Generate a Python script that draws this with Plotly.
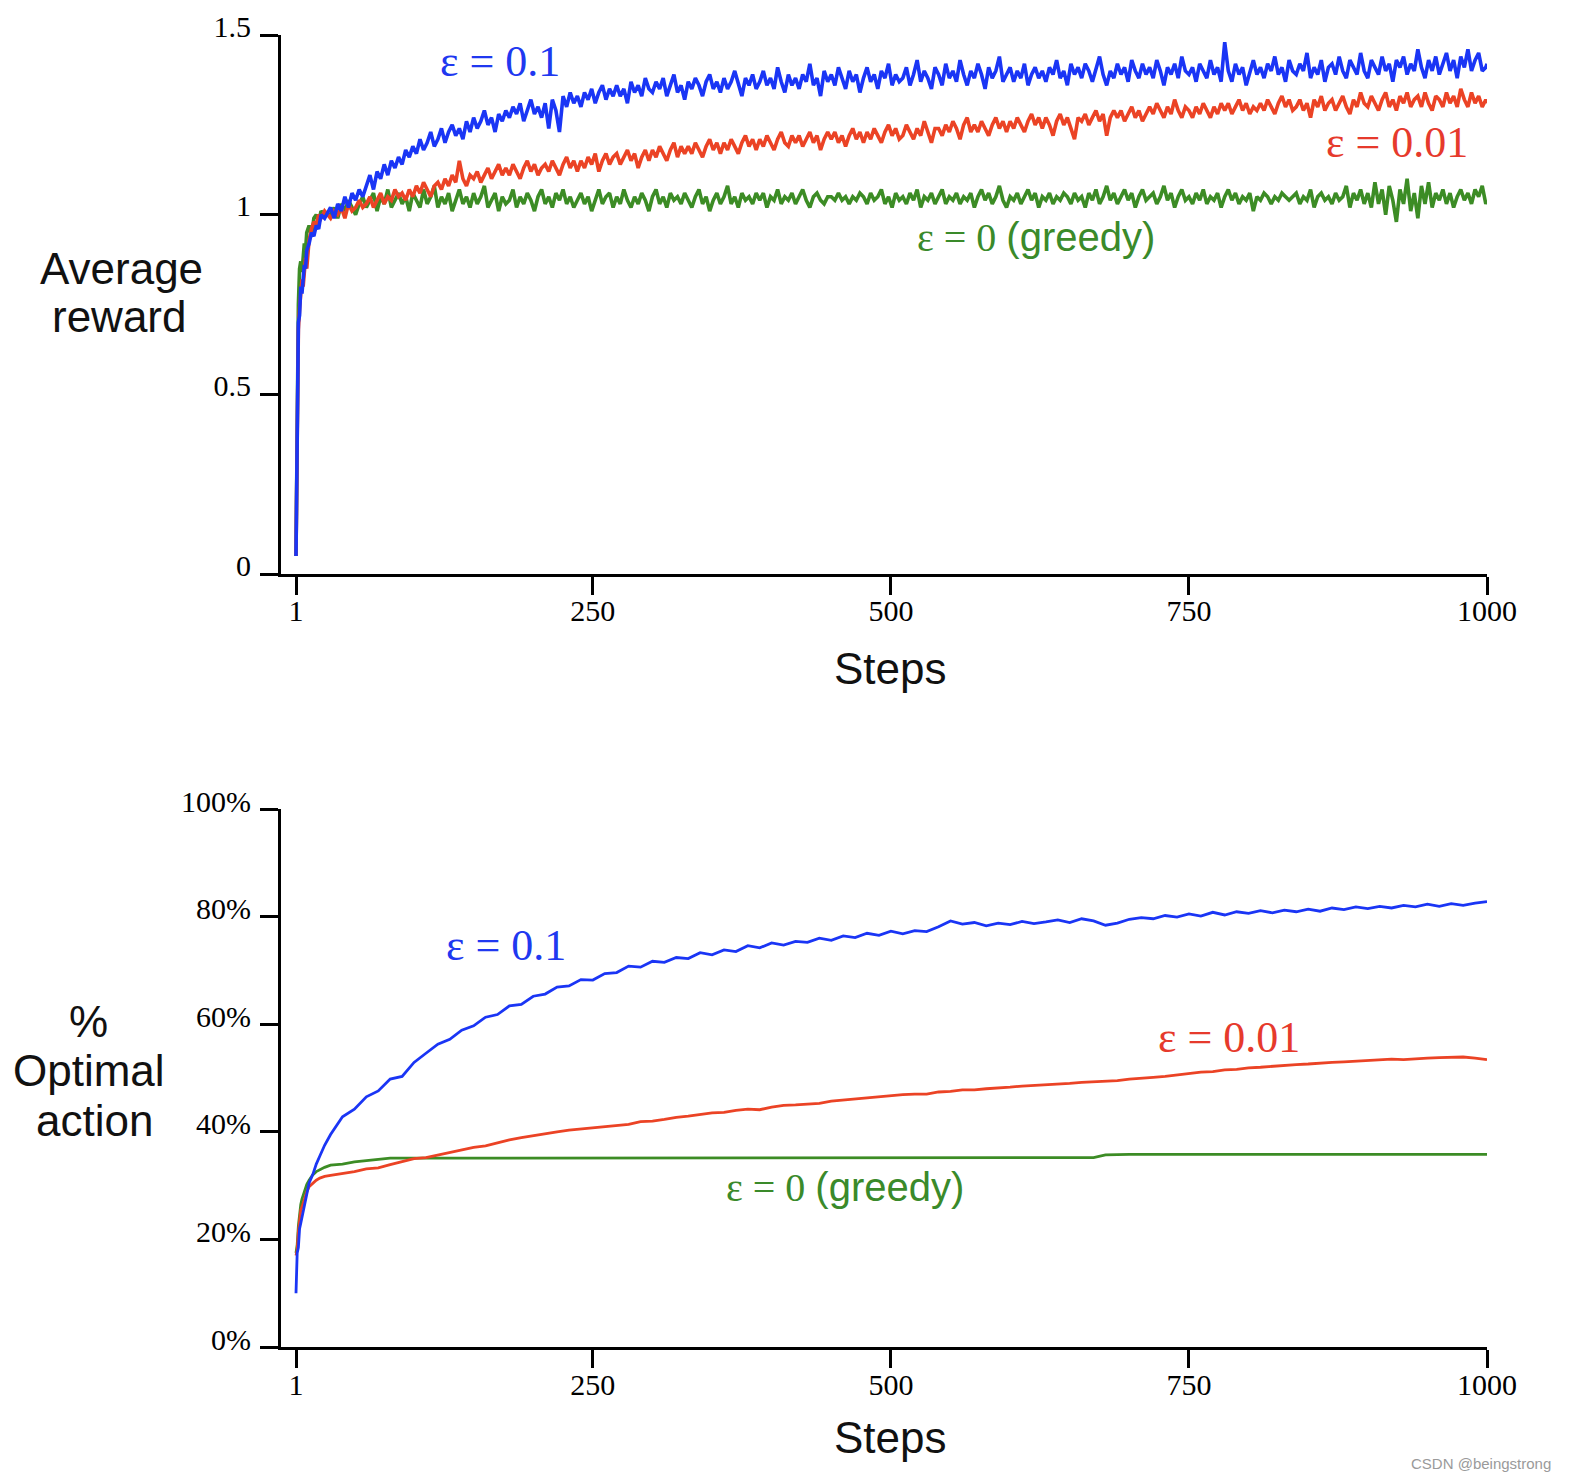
import plotly.graph_objects as go

# ---------------- data ----------------
top_steps = [1, 2, 3, 4, 5, 6, 7, 8, 9, 10, 12, 14, 16, 18, 20, 22, 25] + list(range(30, 1000, 3)) + [1000]

reward_eps01 = [
    0.05, 0.47, 0.70, 0.72, 0.80, 0.78, 0.84, 0.86, 0.85, 0.90, 0.92, 0.95, 0.94, 0.97, 0.96, 1.00, 0.99,
    1.02, 0.99, 1.03, 1.01, 1.05, 1.02, 1.06, 1.04, 1.07, 1.05,
    1.08, 1.11, 1.07, 1.12, 1.10, 1.14, 1.11, 1.15, 1.13, 1.16,
    1.14, 1.18, 1.16, 1.19, 1.17, 1.21, 1.18, 1.20, 1.23, 1.19,
    1.21, 1.24, 1.20, 1.23, 1.25, 1.22, 1.24, 1.21, 1.26, 1.23,
    1.27, 1.24, 1.26, 1.29, 1.25, 1.27, 1.23, 1.28, 1.26, 1.29,
    1.27, 1.30, 1.28, 1.31, 1.26, 1.29, 1.32, 1.28, 1.30, 1.27,
    1.31, 1.24, 1.32, 1.29, 1.23, 1.33, 1.30, 1.34, 1.31, 1.33,
    1.30, 1.34, 1.32, 1.35, 1.31, 1.34, 1.36, 1.32, 1.35, 1.33,
    1.36, 1.33, 1.35, 1.31, 1.37, 1.34, 1.36, 1.33, 1.38, 1.35,
    1.34, 1.37, 1.35, 1.38, 1.33, 1.36, 1.39, 1.34, 1.36, 1.32,
    1.37, 1.35, 1.38, 1.36, 1.33, 1.37, 1.39, 1.35, 1.37, 1.34,
    1.38, 1.35, 1.37, 1.40, 1.36, 1.33, 1.38, 1.36, 1.39, 1.35,
    1.37, 1.40, 1.36, 1.38, 1.35, 1.41, 1.37, 1.34, 1.39, 1.36,
    1.38, 1.35, 1.39, 1.37, 1.42, 1.36, 1.38, 1.33, 1.40, 1.37,
    1.39, 1.36, 1.41, 1.38, 1.35, 1.40, 1.37, 1.39, 1.34, 1.38,
    1.41, 1.37, 1.39, 1.35, 1.40, 1.38, 1.42, 1.36, 1.39, 1.37,
    1.38, 1.41, 1.36, 1.39, 1.43, 1.37, 1.40, 1.38, 1.35, 1.41,
    1.39, 1.36, 1.42, 1.38, 1.40, 1.37, 1.43, 1.39, 1.36, 1.40,
    1.38, 1.42, 1.39, 1.35, 1.41, 1.38, 1.40, 1.44, 1.37, 1.39,
    1.41, 1.37, 1.40, 1.38, 1.42, 1.36, 1.39, 1.41, 1.38, 1.40,
    1.37, 1.41, 1.39, 1.43, 1.38, 1.40, 1.36, 1.42, 1.39, 1.41,
    1.38, 1.42, 1.40, 1.37, 1.41, 1.44, 1.39, 1.36, 1.40, 1.38,
    1.42, 1.39, 1.41, 1.37, 1.43, 1.40, 1.38, 1.42, 1.39, 1.41,
    1.38, 1.43, 1.40, 1.36, 1.41, 1.39, 1.42, 1.38, 1.44, 1.40,
    1.39, 1.41, 1.37, 1.42, 1.40, 1.38, 1.43, 1.39, 1.41, 1.37,
    1.48, 1.40, 1.37, 1.42, 1.39, 1.41, 1.36, 1.40, 1.43, 1.39,
    1.41, 1.38, 1.42, 1.40, 1.44, 1.39, 1.41, 1.37, 1.43, 1.40,
    1.39, 1.42, 1.40, 1.45, 1.38, 1.41, 1.39, 1.43, 1.37, 1.41,
    1.42, 1.39, 1.44, 1.40, 1.38, 1.43, 1.41, 1.39, 1.45, 1.40,
    1.38, 1.43, 1.41, 1.39, 1.44, 1.40, 1.42, 1.37, 1.43, 1.41,
    1.44, 1.39, 1.42, 1.40, 1.46, 1.41, 1.38, 1.43, 1.40, 1.44,
    1.39, 1.42, 1.45, 1.40, 1.43, 1.38, 1.44, 1.41, 1.46, 1.40,
    1.43, 1.45, 1.40, 1.41, 1.42,
]

reward_eps001 = [
    0.05, 0.50, 0.68, 0.74, 0.78, 0.82, 0.80, 0.86, 0.88, 0.85, 0.93, 0.96, 0.98, 0.97, 1.00, 0.99, 1.01,
    0.99, 1.01, 1.00, 1.02, 0.99, 1.03, 1.01, 1.02, 1.04, 1.02,
    1.03, 1.05, 1.02, 1.04, 1.06, 1.03, 1.05, 1.04, 1.07, 1.05,
    1.06, 1.04, 1.07, 1.05, 1.08, 1.06, 1.09, 1.07, 1.05, 1.08,
    1.09, 1.07, 1.10, 1.08, 1.11, 1.09, 1.15, 1.10, 1.08, 1.11,
    1.10, 1.12, 1.09, 1.11, 1.13, 1.10, 1.12, 1.14, 1.11, 1.13,
    1.11, 1.14, 1.12, 1.10, 1.13, 1.15, 1.12, 1.14, 1.11, 1.13,
    1.14, 1.12, 1.15, 1.13, 1.11, 1.14, 1.16, 1.13, 1.15, 1.12,
    1.15, 1.13, 1.16, 1.14, 1.17, 1.12, 1.15, 1.17, 1.14, 1.16,
    1.17, 1.14, 1.16, 1.18, 1.15, 1.17, 1.13, 1.16, 1.18, 1.15,
    1.18, 1.16, 1.19, 1.17, 1.15, 1.18, 1.20, 1.16, 1.19, 1.17,
    1.19, 1.17, 1.20, 1.18, 1.16, 1.19, 1.21, 1.18, 1.20, 1.17,
    1.20, 1.18, 1.21, 1.19, 1.17, 1.20, 1.22, 1.19, 1.21, 1.18,
    1.21, 1.19, 1.22, 1.20, 1.18, 1.21, 1.23, 1.20, 1.19, 1.22,
    1.20, 1.22, 1.19, 1.21, 1.23, 1.20, 1.22, 1.18, 1.21, 1.23,
    1.21, 1.23, 1.20, 1.22, 1.19, 1.22, 1.24, 1.21, 1.23, 1.20,
    1.23, 1.21, 1.24, 1.22, 1.20, 1.23, 1.25, 1.22, 1.24, 1.21,
    1.22, 1.25, 1.23, 1.21, 1.24, 1.22, 1.26, 1.23, 1.20, 1.24,
    1.24, 1.22, 1.25, 1.23, 1.26, 1.24, 1.21, 1.25, 1.27, 1.23,
    1.25, 1.23, 1.26, 1.24, 1.22, 1.25, 1.27, 1.24, 1.26, 1.23,
    1.26, 1.24, 1.27, 1.25, 1.23, 1.26, 1.28, 1.25, 1.27, 1.24,
    1.27, 1.25, 1.22, 1.26, 1.28, 1.25, 1.27, 1.24, 1.21, 1.27,
    1.26, 1.28, 1.25, 1.27, 1.29, 1.26, 1.28, 1.22, 1.27, 1.29,
    1.27, 1.29, 1.26, 1.28, 1.30, 1.27, 1.29, 1.26, 1.28, 1.30,
    1.28, 1.31, 1.29, 1.27, 1.30, 1.28, 1.32, 1.29, 1.27, 1.30,
    1.29, 1.27, 1.30, 1.28, 1.31, 1.29, 1.27, 1.30, 1.28, 1.31,
    1.29, 1.31, 1.28, 1.30, 1.32, 1.29, 1.31, 1.28, 1.30, 1.29,
    1.31, 1.29, 1.32, 1.30, 1.28, 1.31, 1.33, 1.30, 1.32, 1.29,
    1.30, 1.32, 1.29, 1.31, 1.27, 1.32, 1.30, 1.33, 1.29, 1.31,
    1.32, 1.29, 1.31, 1.33, 1.30, 1.28, 1.32, 1.30, 1.34, 1.31,
    1.30, 1.33, 1.31, 1.29, 1.32, 1.34, 1.30, 1.32, 1.29, 1.33,
    1.31, 1.34, 1.30, 1.32, 1.33, 1.30, 1.34, 1.31, 1.29, 1.33,
    1.32, 1.30, 1.34, 1.31, 1.33, 1.30, 1.35, 1.32, 1.30, 1.34,
    1.31, 1.33, 1.30, 1.32, 1.31,
]

reward_eps0 = [
    0.05, 0.52, 0.75, 0.85, 0.87, 0.84, 0.88, 0.92, 0.90, 0.95, 0.97, 0.94, 0.99, 1.00, 0.98, 1.01, 1.00,
    1.00, 1.02, 0.99, 1.03, 1.01, 1.04, 1.02, 1.00, 1.03, 1.05,
    1.02, 1.04, 1.06, 1.01, 1.05, 1.03, 1.07, 1.02, 1.04, 1.06,
    1.03, 1.05, 1.01, 1.06, 1.04, 1.02, 1.07, 1.03, 1.05, 1.08,
    1.02, 1.05, 1.03, 1.06, 1.01, 1.04, 1.07, 1.03, 1.05, 1.02,
    1.06, 1.03, 1.05, 1.08, 1.02, 1.04, 1.06, 1.01, 1.05, 1.03,
    1.04, 1.07, 1.02, 1.05, 1.03, 1.06, 1.04, 1.01, 1.05, 1.07,
    1.03, 1.05, 1.02, 1.06, 1.04, 1.07, 1.03, 1.05, 1.02, 1.04,
    1.06, 1.03, 1.05, 1.01, 1.04, 1.07, 1.03, 1.05, 1.06, 1.02,
    1.05, 1.03, 1.07, 1.04, 1.02, 1.05, 1.03, 1.06, 1.04, 1.01,
    1.05, 1.07, 1.03, 1.05, 1.02, 1.06, 1.04, 1.05, 1.03, 1.06,
    1.04, 1.02, 1.05, 1.07, 1.03, 1.05, 1.01, 1.04, 1.06, 1.03,
    1.05, 1.08, 1.03, 1.05, 1.02, 1.06, 1.04, 1.05, 1.03, 1.06,
    1.04, 1.06, 1.02, 1.05, 1.04, 1.07, 1.03, 1.05, 1.04, 1.06,
    1.03, 1.05, 1.07, 1.04, 1.02, 1.05, 1.06, 1.04, 1.03, 1.05,
    1.05, 1.04, 1.06, 1.04, 1.05, 1.03, 1.05, 1.04, 1.06, 1.05,
    1.03, 1.06, 1.04, 1.05, 1.07, 1.03, 1.05, 1.02, 1.06, 1.04,
    1.05, 1.03, 1.06, 1.04, 1.07, 1.02, 1.05, 1.04, 1.06, 1.03,
    1.05, 1.07, 1.03, 1.05, 1.04, 1.06, 1.03, 1.05, 1.04, 1.06,
    1.02, 1.05, 1.07, 1.04, 1.06, 1.03, 1.05, 1.08, 1.04, 1.02,
    1.05, 1.04, 1.06, 1.03, 1.05, 1.07, 1.04, 1.06, 1.02, 1.05,
    1.04, 1.06, 1.03, 1.05, 1.04, 1.06, 1.05, 1.03, 1.06, 1.04,
    1.05, 1.02, 1.06, 1.04, 1.07, 1.03, 1.05, 1.08, 1.04, 1.06,
    1.03, 1.05, 1.07, 1.04, 1.06, 1.02, 1.05, 1.07, 1.04, 1.05,
    1.06, 1.03, 1.05, 1.08, 1.04, 1.06, 1.02, 1.05, 1.07, 1.04,
    1.05, 1.03, 1.06, 1.04, 1.07, 1.03, 1.05, 1.04, 1.06, 1.02,
    1.05, 1.07, 1.04, 1.06, 1.03, 1.05, 1.04, 1.06, 1.01, 1.05,
    1.04, 1.06, 1.05, 1.03, 1.05, 1.04, 1.06, 1.05, 1.04, 1.05,
    1.06, 1.03, 1.05, 1.04, 1.07, 1.02, 1.05, 1.06, 1.04, 1.05,
    1.03, 1.06, 1.04, 1.05, 1.08, 1.02, 1.06, 1.04, 1.07, 1.03,
    1.06, 1.02, 1.09, 1.03, 1.07, 1.00, 1.08, 1.04, 0.98, 1.07,
    1.03, 1.10, 1.01, 1.06, 0.99, 1.08, 1.03, 1.09, 1.02, 1.06,
    1.04, 1.07, 1.03, 1.06, 1.02, 1.05, 1.07, 1.04, 1.06, 1.03,
    1.07, 1.05, 1.08, 1.03, 1.04,
]

bot_steps = [1, 2, 3, 4, 5, 6, 8, 10, 12, 15, 18, 21, 25] + list(range(30, 1001, 10))

optimal_eps01 = [
    10, 17.5, 18.5, 22, 23, 24, 26.5, 28.5, 30.5, 32, 34, 35.5, 37.5,
    39.5, 42.8, 44.2, 46.5, 47.6, 49.8, 50.3, 52.9, 54.6, 56.3,
    57.2, 58.9, 59.7, 61.3, 61.8, 63.4, 63.7, 65.2, 65.6, 66.9,
    67.1, 68.3, 68.2, 69.4, 69.6, 70.8, 70.6, 71.7, 71.5, 72.4,
    72.2, 73.3, 72.9, 73.8, 73.5, 74.6, 74.2, 75.1, 74.7, 75.4,
    75.2, 76.0, 75.6, 76.4, 76.1, 76.9, 76.5, 77.3, 76.8, 77.4,
    77.2, 78.1, 79.2, 78.6, 78.9, 78.3, 78.8, 78.5, 79.1, 78.7,
    79.0, 79.4, 78.9, 79.6, 79.2, 78.4, 78.8, 79.5, 79.8, 79.6,
    80.2, 79.9, 80.5, 80.1, 80.8, 80.3, 80.9, 80.6, 81.1, 80.7,
    81.2, 80.9, 81.4, 81.0, 81.6, 81.3, 81.8, 81.5, 81.9, 81.6,
    82.1, 81.8, 82.3, 81.9, 82.4, 82.1, 82.5, 82.8,
]

optimal_eps001 = [
    17, 18, 21.5, 24, 25.5, 26, 27.5, 28.8, 29.8, 30.5, 31, 31.4, 31.7,
    31.9, 32.2, 32.6, 33.1, 33.3, 33.9, 34.4, 35.0, 35.2, 35.7,
    36.1, 36.7, 37.1, 37.4, 38.0, 38.5, 38.9, 39.3, 39.6, 40.0,
    40.3, 40.5, 40.8, 41.0, 41.1, 41.4, 41.9, 42.0, 42.3, 42.7,
    42.9, 43.2, 43.5, 43.6, 44.0, 44.2, 44.1, 44.6, 44.9, 45.0,
    45.2, 45.3, 45.7, 45.9, 46.1, 46.3, 46.5, 46.8, 46.9, 47.0,
    47.0, 47.4, 47.5, 47.8, 47.8, 48.0, 48.1, 48.3, 48.5, 48.6,
    48.7, 48.8, 49.0, 49.2, 49.3, 49.4, 49.5, 49.8, 49.9, 50.1,
    50.3, 50.6, 50.8, 51.1, 51.2, 51.5, 51.6, 51.9, 52.0, 52.2,
    52.3, 52.5, 52.6, 52.8, 52.9, 53.0, 53.1, 53.2, 53.3, 53.5,
    53.4, 53.6, 53.7, 53.8, 53.8, 53.9, 53.7, 53.4,
]

optimal_eps0 = [
    17.5, 19, 22.5, 25, 26.5, 27.5, 29, 30.2, 31, 32, 32.6, 33, 33.4,
    33.8, 34.0, 34.4, 34.6, 34.9, 35.1, 35.1, 35.1, 35.1, 35.1,
    35.1, 35.1, 35.2, 35.2, 35.2, 35.2, 35.2, 35.2, 35.2, 35.2,
    35.2, 35.2, 35.2, 35.2, 35.2, 35.2, 35.2, 35.2, 35.2, 35.2,
    35.2, 35.2, 35.2, 35.2, 35.2, 35.2, 35.2, 35.2, 35.2, 35.2,
    35.2, 35.2, 35.2, 35.2, 35.2, 35.2, 35.2, 35.2, 35.2, 35.2,
    35.2, 35.2, 35.2, 35.2, 35.2, 35.2, 35.2, 35.2, 35.2, 35.2,
    35.2, 35.2, 35.2, 35.2, 35.2, 35.7, 35.8, 35.8, 35.8, 35.8,
    35.8, 35.8, 35.8, 35.8, 35.8, 35.8, 35.8, 35.8, 35.8, 35.8,
    35.8, 35.8, 35.8, 35.8, 35.8, 35.8, 35.8, 35.8, 35.8, 35.8,
    35.8, 35.8, 35.8, 35.8, 35.8, 35.8, 35.8, 35.8,
]

x_tickvals = [1, 250, 500, 750, 1000]
x_ticktext = ["1", "250", "500", "750", "1000"]
top_tickvals = [0, 0.5, 1, 1.5]
top_ticktext = ["0", "0.5", "1", "1.5"]
bot_tickvals = [0, 20, 40, 60, 80, 100]
bot_ticktext = ["0%", "20%", "40%", "60%", "80%", "100%"]

# ---------------- style ----------------
W, H = 1570, 1482
BLUE = "#1a35f5"
RED = "#eb4325"
GREEN = "#3c8c25"
BLUE_T = "#2038f0"
RED_T = "#e63a2c"
GREEN_T = "#3a8a2a"
SERIF = "Liberation Serif, Times New Roman, serif"
SANS = "Liberation Sans, Arial, Helvetica, sans-serif"


def px(x):
    return x / W


def py(y):
    return 1 - y / H


def pair(xs, ys):
    n = min(len(xs), len(ys))
    return xs[:n], ys[:n]


fig = go.Figure()

for ys, c in [(reward_eps0, GREEN), (reward_eps001, RED), (reward_eps01, BLUE)]:
    xx, yy = pair(top_steps, ys)
    fig.add_trace(go.Scatter(x=xx, y=yy, mode="lines", line=dict(color=c, width=3.6),
                             xaxis="x", yaxis="y", showlegend=False, hoverinfo="skip"))
for ys, c in [(optimal_eps0, GREEN), (optimal_eps001, RED), (optimal_eps01, BLUE)]:
    xx, yy = pair(bot_steps, ys)
    fig.add_trace(go.Scatter(x=xx, y=yy, mode="lines", line=dict(color=c, width=2.8),
                             xaxis="x2", yaxis="y2", showlegend=False, hoverinfo="skip"))

axis_common = dict(
    showline=True, linecolor="black", linewidth=3, ticks="outside", ticklen=18,
    tickwidth=3, tickcolor="black", showgrid=False, zeroline=False, automargin=False,
    tickfont=dict(family=SERIF, size=30, color="black"),
)
xdom = [px(281), px(1487)]
xrange_ = [-11.58, 1000]

fig.update_layout(
    template="none",
    width=W, height=H,
    margin=dict(l=0, r=0, t=0, b=0, pad=0, autoexpand=False),
    paper_bgcolor="white", plot_bgcolor="white",
    xaxis=dict(domain=xdom, range=xrange_, anchor="y", tickvals=x_tickvals,
               ticktext=x_ticktext, ticklabelstandoff=-10, **axis_common),
    yaxis=dict(domain=[py(574), py(35)], range=[0, 1.5], anchor="x", tickvals=top_tickvals,
               ticktext=top_ticktext, ticklabelstandoff=3, ticklabelshift=-9, **axis_common),
    xaxis2=dict(domain=xdom, range=xrange_, anchor="y2", tickvals=x_tickvals,
                ticktext=x_ticktext, ticklabelstandoff=-9, **axis_common),
    yaxis2=dict(domain=[py(1347), py(809)], range=[0, 100], anchor="x2", tickvals=bot_tickvals,
                ticktext=bot_ticktext, ticklabelstandoff=3, ticklabelshift=-8, **axis_common),
)

annots = []


def add_text(text, x, y, size, color, family, xanchor="center"):
    annots.append(dict(text=text, x=px(x), y=py(y), xref="paper", yref="paper",
                       showarrow=False, xanchor=xanchor, yanchor="middle",
                       font=dict(family=family, size=size, color=color)))


GREEDY = "<span style=\"font-family:'Liberation Sans', Arial, sans-serif\">(greedy)</span>"

add_text("ε = 0.1", 500, 62, 44, BLUE_T, SERIF)
add_text("ε = 0.01", 1397, 143, 44, RED_T, SERIF)
add_text("ε = 0 " + GREEDY, 1036, 238, 40, GREEN_T, SERIF)
add_text("ε = 0.1", 506, 945, 44, BLUE_T, SERIF)
add_text("ε = 0.01", 1229, 1037, 44, RED_T, SERIF)
add_text("ε = 0 " + GREEDY, 845, 1187, 40, GREEN_T, SERIF)

add_text("Average", 121, 268, 44, "#111111", SANS)
add_text("reward", 119, 316, 44, "#111111", SANS)
add_text("%", 88, 1022, 44, "#111111", SANS)
add_text("Optimal", 89, 1070, 44, "#111111", SANS)
add_text("action", 94, 1120, 44, "#111111", SANS)
add_text("Steps", 890, 668, 44, "#111111", SANS)
add_text("Steps", 890, 1437, 44, "#111111", SANS)

add_text("CSDN @beingstrong", 1481, 1463, 15, "#9a9a9a", SANS)

fig.update_layout(annotations=annots)

fig.write_html("out.html", config={"displayModeBar": False},
               post_script="document.body.style.margin='0';")
